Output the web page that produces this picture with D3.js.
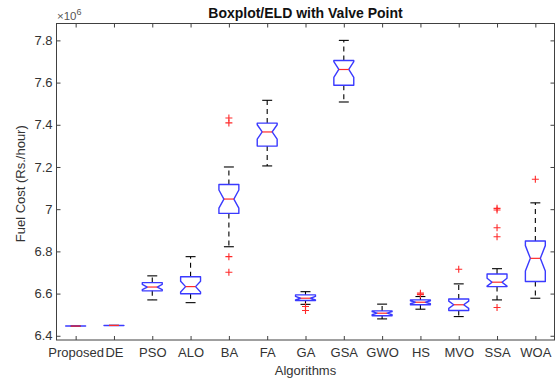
<!DOCTYPE html>
<html><head><meta charset="utf-8">
<script src="https://cdn.jsdelivr.net/npm/d3@7"></script>
<style>body{margin:0;background:#fff}svg{display:block}text{font-family:"Liberation Sans",Arial,Helvetica,sans-serif}</style>
</head><body><svg id="c" width="555" height="381"></svg>
<script>
const categories = ["Proposed","DE","PSO","ALO","BA","FA","GA","GSA","GWO","HS","MVO","SSA","WOA"];
const lowerWhisker = [6.446,6.449,6.570,6.557,6.822,7.205,6.549,7.508,6.480,6.526,6.491,6.570,6.578];
const q1Values     = [6.446,6.449,6.613,6.599,6.980,7.299,6.567,7.587,6.495,6.547,6.520,6.633,6.657];
const medianValues = [6.446,6.449,6.631,6.633,7.048,7.366,6.578,7.662,6.507,6.559,6.547,6.654,6.767];
const q3Values     = [6.446,6.449,6.652,6.680,7.117,7.408,6.594,7.705,6.518,6.570,6.574,6.693,6.849];
const upperWhisker = [6.446,6.449,6.684,6.775,7.200,7.516,6.609,7.800,6.550,6.586,6.646,6.718,7.030];
const outliers = [[],[],[],[],[7.432,7.409,6.775,6.701],[],[6.539,6.520],[],[],[6.602,6.595],[6.715],[7.004,6.996,6.912,6.869,6.534],[7.142]];
const yTicks = [6.4,6.6,6.8,7,7.2,7.4,7.6,7.8];
const yTickLabels = ["6.4","6.6","6.8","7","7.2","7.4","7.6","7.8"];
const runs = 25;

const svg = d3.select("#c");
const L = 56.5, R = 554.5, T = 23.5, B = 340;
const x = d3.scalePoint().domain(categories).range([L, R]).padding(0.5);
const y = d3.scaleLinear().domain([6.38, 7.88]).range([B, T]);
const step = x.step();
const bw = step * 0.52, cw = bw * 0.5;
const axisCol = "#404040", textCol = "#333";

const gl = svg.append("g").attr("transform", `translate(${L},0)`)
  .call(d3.axisLeft(y).tickValues(yTicks).tickFormat((d,i)=>yTickLabels[i]).tickSizeInner(-4).tickSizeOuter(0).tickPadding(4));
const gr = svg.append("g").attr("transform", `translate(${R},0)`)
  .call(d3.axisRight(y).tickValues(yTicks).tickFormat("").tickSizeInner(-4).tickSizeOuter(0));
const gb = svg.append("g").attr("transform", `translate(0,${B})`)
  .call(d3.axisBottom(x).tickSizeInner(-4).tickSizeOuter(0).tickPadding(8));
const gt = svg.append("g").attr("transform", `translate(0,${T})`)
  .call(d3.axisTop(x).tickFormat("").tickSizeInner(-4).tickSizeOuter(0));
[gl,gr,gb,gt].forEach(g=>{
  g.select(".domain").remove();
  g.selectAll(".tick line").attr("stroke", axisCol);
  g.selectAll(".tick text").attr("fill", textCol).style("font-size","13px").style("font-family",'"Liberation Sans",Arial,sans-serif');
});
svg.append("rect").attr("x",L).attr("y",T).attr("width",R-L).attr("height",B-T)
  .attr("fill","none").attr("stroke",axisCol).attr("stroke-width",1);

const data = categories.map((c,i)=>({c, lw:lowerWhisker[i], q1:q1Values[i], med:medianValues[i], q3:q3Values[i], uw:upperWhisker[i], out:outliers[i]}));
const g = svg.append("g");
data.forEach(d=>{
  const cx = x(d.c), l = cx - bw/2, r = cx + bw/2, qw = bw/4;
  const nd = 1.57*(d.q3-d.q1)/Math.sqrt(runs);
  const nlo = d.med - nd, nhi = d.med + nd;
  g.append("line").attr("x1",cx).attr("x2",cx).attr("y1",y(d.q3)).attr("y2",y(d.uw))
    .attr("stroke","#000").attr("stroke-dasharray","5,4").attr("stroke-width",1.1);
  g.append("line").attr("x1",cx).attr("x2",cx).attr("y1",y(d.q1)).attr("y2",y(d.lw))
    .attr("stroke","#000").attr("stroke-dasharray","5,4").attr("stroke-width",1.1);
  [d.uw,d.lw].forEach(v=>g.append("line").attr("x1",cx-cw/2).attr("x2",cx+cw/2).attr("y1",y(v)).attr("y2",y(v)).attr("stroke","#000").attr("stroke-width",1.1));
  const p = d3.path();
  p.moveTo(l,y(d.q1)); p.lineTo(l,y(nlo)); p.lineTo(l+qw,y(d.med)); p.lineTo(l,y(nhi)); p.lineTo(l,y(d.q3));
  p.lineTo(r,y(d.q3)); p.lineTo(r,y(nhi)); p.lineTo(r-qw,y(d.med)); p.lineTo(r,y(nlo)); p.lineTo(r,y(d.q1)); p.closePath();
  g.append("path").attr("d",p.toString()).attr("fill","none").attr("stroke","#3a3aff").attr("stroke-width",1.4).attr("stroke-linejoin","round");
  g.append("line").attr("x1",l+qw).attr("x2",r-qw).attr("y1",y(d.med)).attr("y2",y(d.med)).attr("stroke","#ff2a2a").attr("stroke-width",1.2);
  d.out.forEach(v=>{
    g.append("path").attr("d",`M${cx-3.5},${y(v)}H${cx+3.5}M${cx},${y(v)-3.5}V${y(v)+3.5}`)
      .attr("stroke","#ff2a2a").attr("stroke-width",1.1).attr("fill","none");
  });
});

svg.append("text").attr("x",(L+R)/2).attr("y",17.5).attr("text-anchor","middle")
  .style("font-size","14px").style("font-weight","bold").attr("fill","#111").text("Boxplot/ELD with Valve Point");
svg.append("text").attr("x",(L+R)/2).attr("y",374.5).attr("text-anchor","middle")
  .style("font-size","13px").attr("fill",textCol).text("Algorithms");
svg.append("text").attr("transform",`translate(24.5,${(T+B)/2+2}) rotate(-90)`).attr("text-anchor","middle")
  .style("font-size","13px").attr("fill",textCol).text("Fuel Cost (Rs./hour)");
const ex = svg.append("text").attr("x",57).attr("y",20).style("font-size","11.5px").attr("fill","#555");
ex.append("tspan").text("×10");
ex.append("tspan").attr("dy",-5).style("font-size","9px").text("6");
</script></body></html>
